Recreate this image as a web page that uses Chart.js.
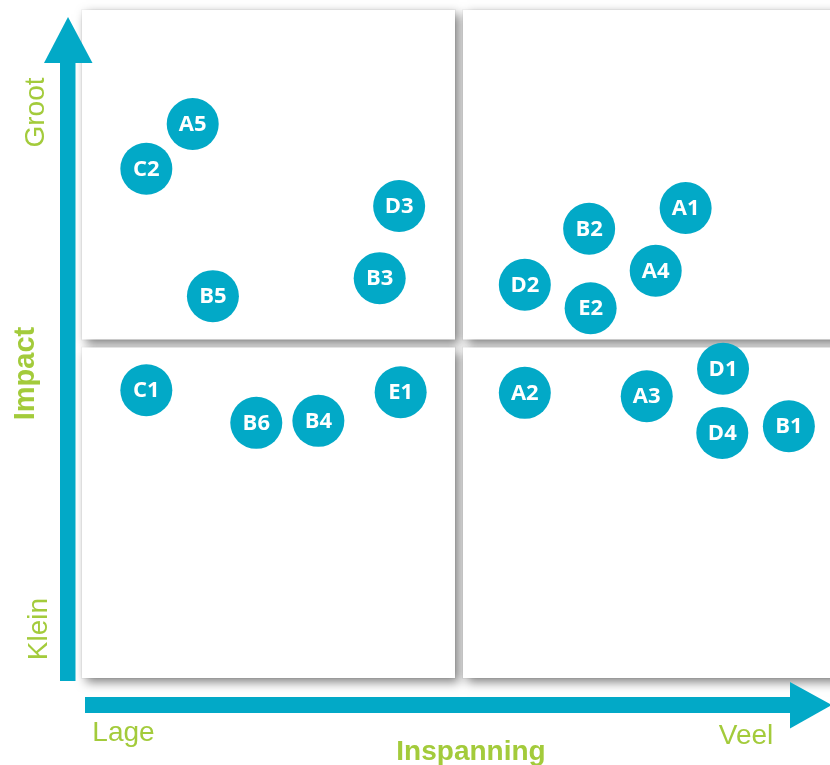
<!DOCTYPE html>
<html>
<head>
<meta charset="utf-8">
<script src="https://cdn.jsdelivr.net/npm/chart.js@4"></script>
<style>
  html,body{margin:0;padding:0;background:#ffffff;}
  #wrap{width:830px;height:765px;position:relative;}
</style>
</head>
<body>
<div id="wrap"><canvas id="c" width="830" height="765"></canvas></div>
<script>
// ---- data ----
const pointLabels = ['A5','C2','D3','B3','B5','A1','B2','A4','D2','E2','C1','B6','B4','E1','A2','A3','D1','D4','B1'];
const inspanning  = [1.48,0.86,4.24,3.98,1.75,8.07,6.78,7.67,5.92,6.80,0.86,2.33,3.16,4.26,5.92,7.55,8.57,8.56,9.45];
const impact      = [8.29,7.62,7.06,5.98,5.71,7.03,6.72,6.09,5.88,5.53,4.30,3.81,3.84,4.27,4.26,4.21,4.62,3.66,3.76];
const xTickLabels = ['Lage','Veel'];
const yTickLabels = ['Klein','Groot'];
const xTitle = 'Inspanning';
const yTitle = 'Impact';

const CYAN = '#02a9c7';
const GREEN = '#a3cb3b';

const points = pointLabels.map((l,i)=>({x:inspanning[i], y:impact[i]}));

const decorPlugin = {
  id:'decor',
  beforeDatasetsDraw(chart){
    const ctx = chart.ctx;
    const xs = chart.scales.x, ys = chart.scales.y;
    const ca = chart.chartArea;
    const mx = xs.getPixelForValue(5), my = ys.getPixelForValue(5);
    const boxes = [
      [ca.left, ca.top, mx-1, my-4],
      [mx+7, ca.top, ca.right+10, my-4],
      [ca.left, my+4, mx-1, ca.bottom+1],
      [mx+7, my+4, ca.right+10, ca.bottom+1]
    ];
    ctx.save();
    boxes.forEach(b=>{
      ctx.strokeStyle='rgba(0,0,0,0.035)';
      ctx.lineWidth=1;
      ctx.strokeRect(b[0]-0.5,b[1]-0.5,b[2]-b[0]+1,b[3]-b[1]+1);
    });
    ctx.shadowColor='rgba(0,0,0,0.5)';
    ctx.shadowBlur=10;
    ctx.shadowOffsetX=4;
    ctx.shadowOffsetY=4;
    ctx.fillStyle='#ffffff';
    boxes.forEach(b=>ctx.fillRect(b[0],b[1],b[2]-b[0],b[3]-b[1]));
    ctx.restore();

    // arrows
    ctx.save();
    ctx.fillStyle=CYAN;
    ctx.fillRect(60,62,15.5,619);
    ctx.beginPath();
    ctx.moveTo(44,63);ctx.lineTo(92.5,63);ctx.lineTo(68,17);ctx.closePath();ctx.fill();
    ctx.fillRect(85,697,706,16);
    ctx.beginPath();
    ctx.moveTo(790,682);ctx.lineTo(790,728.5);ctx.lineTo(832,705);ctx.closePath();ctx.fill();
    ctx.restore();

    // texts
    ctx.save();
    ctx.fillStyle=GREEN;
    ctx.font='28px "Liberation Sans", Arial, sans-serif';
    ctx.textAlign='center';
    ctx.textBaseline='alphabetic';
    ctx.fillText(xTickLabels[0],123.5,741);
    ctx.fillText(xTickLabels[1],746,744);
    ctx.save();ctx.translate(43.5,112.5);ctx.rotate(-Math.PI/2);ctx.fillText(yTickLabels[1],0,0);ctx.restore();
    ctx.save();ctx.translate(46.5,629);ctx.rotate(-Math.PI/2);ctx.fillText(yTickLabels[0],0,0);ctx.restore();
    ctx.font='bold 29px "Liberation Sans", Arial, sans-serif';
    ctx.save();ctx.translate(33.5,373.5);ctx.rotate(-Math.PI/2);ctx.fillText(yTitle,0,0);ctx.restore();
    ctx.font='bold 28px "Liberation Sans", Arial, sans-serif';
    ctx.fillText(xTitle,471,760);
    ctx.restore();
  },
  afterDatasetsDraw(chart){
    const ctx = chart.ctx;
    const meta = chart.getDatasetMeta(0);
    ctx.save();
    ctx.fillStyle='#ffffff';
    ctx.font='bold 22px "Open Sans", "Noto Sans", sans-serif';
    ctx.textAlign='center';
    ctx.textBaseline='middle';
    meta.data.forEach((el,i)=>{
      ctx.fillText(pointLabels[i], el.x, el.y+1);
    });
    ctx.restore();
  }
};

new Chart(document.getElementById('c'),{
  type:'scatter',
  data:{datasets:[{
    label:'Items',
    data:points,
    backgroundColor:CYAN,
    borderColor:CYAN,
    pointRadius:26,
    pointHoverRadius:26,
    borderWidth:0,
    clip:false
  }]},
  options:{
    responsive:false,
    animation:false,
    devicePixelRatio:1,
    layout:{autoPadding:false,padding:{left:82,right:0,top:10,bottom:88}},
    scales:{
      x:{type:'linear',min:0,max:10,display:false},
      y:{type:'linear',min:0,max:10,display:false}
    },
    plugins:{legend:{display:false},tooltip:{enabled:false}}
  },
  plugins:[decorPlugin]
});
</script>
</body>
</html>
